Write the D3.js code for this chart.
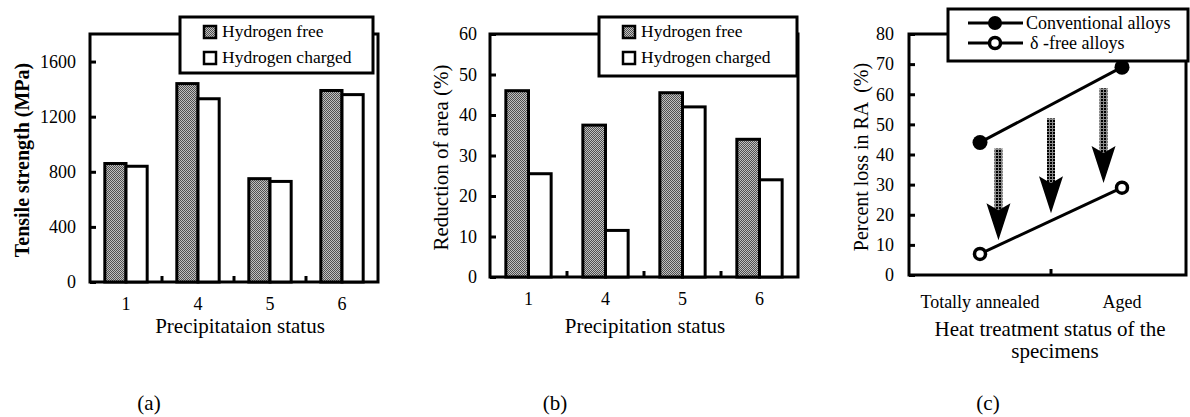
<!DOCTYPE html>
<html>
<head>
<meta charset="utf-8">
<script src="https://cdn.jsdelivr.net/npm/d3@7"></script>
<style>
  body { margin: 0; background: #fff; }
</style>
</head>
<body>
<div id="chart"></div>
<script>
// values
const statusA = ["1", "4", "5", "6"];
const tensileFree = [860, 1440, 750, 1390];
const tensileCharged = [840, 1330, 730, 1360];
const tensileTicks = [0, 400, 800, 1200, 1600];

const statusB = ["1", "4", "5", "6"];
const raFree = [46, 37.5, 45.5, 34];
const raCharged = [25.5, 11.5, 42, 24];
const raTicks = [0, 10, 20, 30, 40, 50, 60];

const heatStatus = ["Totally annealed", "Aged"];
const lossConventional = [44, 69];
const lossDeltaFree = [7, 29];
const lossTicks = [0, 10, 20, 30, 40, 50, 60, 70, 80];
// arrows: position between the two categories (0..1), start and end value
const arrowPos = [0.13, 0.5, 0.87];
const arrowFrom = [42, 52, 62];
const arrowTo = [11.5, 20.5, 30.5];

const barSeries = ["Hydrogen free", "Hydrogen charged"];
const lineSeries = ["Conventional alloys", "δ -free alloys"];
const panelLabels = ["(a)", "(b)", "(c)"];

const W = 1190, H = 417;
const FONT = "'Liberation Serif', 'Times New Roman', serif";
const svg = d3.select("#chart").append("svg")
  .attr("width", W).attr("height", H);

const defs = svg.append("defs");
const hatch = defs.append("pattern")
  .attr("id", "grayfill").attr("patternUnits", "userSpaceOnUse")
  .attr("width", 2).attr("height", 2);
hatch.append("rect").attr("width", 2).attr("height", 2).attr("fill", "#c0c0c0");
hatch.append("rect").attr("width", 1).attr("height", 1).attr("fill", "#505050");
hatch.append("rect").attr("x", 1).attr("y", 1).attr("width", 1).attr("height", 1).attr("fill", "#505050");

const dots = defs.append("pattern")
  .attr("id", "dotted").attr("patternUnits", "userSpaceOnUse")
  .attr("width", 3).attr("height", 3);
dots.append("rect").attr("width", 3).attr("height", 3).attr("fill", "#8a8a8a");
dots.append("rect").attr("width", 2).attr("height", 2).attr("fill", "#000");

function txt(sel) {
  return sel.append("text").style("font-family", FONT);
}

function barPanel(cfg) {
  const g = svg.append("g");
  const data = cfg.categories.map((c, i) => ({cat: c, vals: [cfg.free[i], cfg.charged[i]]}));

  const x = d3.scaleBand().domain(cfg.categories).range([cfg.left, cfg.right]);
  const xs = d3.scaleBand().domain([0, 1]).range([0, x.bandwidth()]).paddingOuter(0.7);
  const y = d3.scaleLinear().domain([0, cfg.yMax]).range([cfg.bottom, cfg.top]);

  // frame
  g.append("rect")
    .attr("x", cfg.left).attr("y", cfg.top)
    .attr("width", cfg.right - cfg.left).attr("height", cfg.bottom - cfg.top)
    .attr("fill", "none").attr("stroke", "#000").attr("stroke-width", 3);

  // y ticks, pointing inside
  const yAxis = d3.axisRight(y).tickValues(cfg.ticks).tickSize(6).tickFormat("");
  g.append("g").attr("transform", `translate(${cfg.left},0)`).call(yAxis)
    .call(a => a.select(".domain").remove())
    .call(a => a.selectAll("line").attr("stroke", "#000").attr("stroke-width", 3));
  g.selectAll(".ylab").data(cfg.ticks).enter().append("text")
    .style("font-family", FONT)
    .attr("x", cfg.labelEnd).attr("y", d => y(d)).attr("dy", "0.35em")
    .attr("text-anchor", "end").attr("font-size", 18).text(d => d);

  // category separators
  g.selectAll(".sep").data(cfg.categories.slice(1)).enter().append("line")
    .attr("x1", d => x(d)).attr("x2", d => x(d))
    .attr("y1", cfg.bottom).attr("y2", cfg.bottom - 6)
    .attr("stroke", "#000").attr("stroke-width", 3);

  // bars
  const grp = g.selectAll(".grp").data(data).enter().append("g")
    .attr("transform", d => `translate(${x(d.cat)},0)`);
  grp.selectAll("rect").data(d => d.vals).enter().append("rect")
    .attr("x", (d, i) => xs(i)).attr("width", xs.bandwidth())
    .attr("y", d => y(d)).attr("height", d => cfg.bottom - y(d))
    .attr("fill", (d, i) => i === 0 ? "url(#grayfill)" : "#fff")
    .attr("stroke", "#000").attr("stroke-width", 3);

  // x labels
  g.selectAll(".xlab").data(cfg.categories).enter().append("text")
    .style("font-family", FONT)
    .attr("x", d => x(d) + x.bandwidth() / 2).attr("y", cfg.bottom + 28)
    .attr("text-anchor", "middle").attr("font-size", 18).text(d => d);
  txt(g).attr("x", cfg.xTitleX).attr("y", 333)
    .attr("text-anchor", "middle").attr("font-size", 21).text(cfg.xTitle);

  txt(g)
    .attr("transform", `translate(${cfg.titleX},${(cfg.top + cfg.bottom) / 2 + 2}) rotate(-90)`)
    .attr("text-anchor", "middle").attr("font-size", cfg.titleSize)
    .attr("font-weight", cfg.titleBold ? "bold" : "normal").text(cfg.title);

  // legend
  const lg = g.append("g");
  lg.append("rect").attr("x", cfg.leg[0]).attr("y", cfg.leg[1])
    .attr("width", cfg.leg[2]).attr("height", cfg.leg[3])
    .attr("fill", "#fff").attr("stroke", "#000").attr("stroke-width", 3);
  barSeries.forEach((s, i) => {
    const ly = cfg.leg[1] + 20 + i * 26;
    lg.append("rect").attr("x", cfg.leg[0] + 24).attr("y", ly - 11)
      .attr("width", 12).attr("height", 12)
      .attr("fill", i === 0 ? "url(#grayfill)" : "#fff")
      .attr("stroke", "#000").attr("stroke-width", 2.5);
    txt(lg).attr("x", cfg.leg[0] + 42).attr("y", ly)
      .attr("font-size", 17.5).text(s);
  });
}

barPanel({
  categories: statusA, free: tensileFree, charged: tensileCharged,
  left: 90, right: 378, top: 34, bottom: 282, yMax: 1800, ticks: tensileTicks,
  labelEnd: 76, title: "Tensile strength (MPa)", titleBold: true, titleSize: 20, titleX: 29,
  xTitle: "Precipitataion status", xTitleX: 240, leg: [180, 17, 193, 56]
});

barPanel({
  categories: statusB, free: raFree, charged: raCharged,
  left: 490, right: 798, top: 34, bottom: 277, yMax: 60, ticks: raTicks,
  labelEnd: 477, title: "Reduction of area (%)", titleBold: false, titleSize: 21, titleX: 448,
  xTitle: "Precipitation status", xTitleX: 645, leg: [599, 17, 198, 59]
});

// panel (c)
(function () {
  const g = svg.append("g");
  const left = 909, right = 1186, top = 34, bottom = 275;
  const x = d3.scaleBand().domain(heatStatus).range([left, left + 284]);
  const xPos = d3.scaleLinear().domain([0, 1])
    .range([x(heatStatus[0]) + x.bandwidth() / 2, x(heatStatus[1]) + x.bandwidth() / 2]);
  const y = d3.scaleLinear().domain([0, 80]).range([bottom, top]);

  g.append("rect").attr("x", left).attr("y", top)
    .attr("width", right - left).attr("height", bottom - top)
    .attr("fill", "none").attr("stroke", "#000").attr("stroke-width", 3);

  g.append("g").attr("transform", `translate(${left},0)`)
    .call(d3.axisRight(y).tickValues(lossTicks).tickSize(6).tickFormat(""))
    .call(a => a.select(".domain").remove())
    .call(a => a.selectAll("line").attr("stroke", "#000").attr("stroke-width", 3));
  g.selectAll(".ylab").data(lossTicks).enter().append("text")
    .style("font-family", FONT)
    .attr("x", 894).attr("y", d => y(d)).attr("dy", "0.35em")
    .attr("text-anchor", "end").attr("font-size", 18).text(d => d);

  g.append("line").attr("x1", x(heatStatus[1])).attr("x2", x(heatStatus[1]))
    .attr("y1", bottom).attr("y2", bottom - 6).attr("stroke", "#000").attr("stroke-width", 3);

  g.selectAll(".xlab").data(heatStatus).enter().append("text")
    .style("font-family", FONT)
    .attr("x", d => x(d) + x.bandwidth() / 2).attr("y", 308)
    .attr("text-anchor", "middle").attr("font-size", 18).text(d => d);
  txt(g).attr("x", 1050).attr("y", 336).attr("text-anchor", "middle")
    .attr("font-size", 21).text("Heat treatment status of the");
  txt(g).attr("x", 1055).attr("y", 358).attr("text-anchor", "middle")
    .attr("font-size", 21).text("specimens");

  txt(g)
    .attr("transform", `translate(868,157) rotate(-90)`)
    .attr("text-anchor", "middle").attr("font-size", 20)
    .style("white-space", "pre")
    .text("Percent loss in RA  (%)");

  // arrows
  arrowPos.forEach((p, i) => {
    const ax = xPos(p), tip = y(arrowTo[i]), headTop = tip - 37;
    g.append("rect").attr("x", ax - 4).attr("y", y(arrowFrom[i]))
      .attr("width", 8).attr("height", headTop + 8 - y(arrowFrom[i]))
      .attr("fill", "url(#dotted)");
    g.append("path")
      .attr("d", d3.line()([[ax - 12, headTop], [ax, headTop + 7], [ax + 12, headTop], [ax, tip]]) + "Z")
      .attr("fill", "#000");
  });

  const line = d3.line().x((d, i) => x(heatStatus[i]) + x.bandwidth() / 2).y(d => y(d));
  [lossConventional, lossDeltaFree].forEach((vals, k) => {
    g.append("path").attr("d", line(vals)).attr("fill", "none")
      .attr("stroke", "#000").attr("stroke-width", 3);
    g.selectAll(null).data(vals).enter().append("circle")
      .attr("cx", (d, i) => x(heatStatus[i]) + x.bandwidth() / 2).attr("cy", d => y(d))
      .attr("r", k === 0 ? 7.5 : 5.5)
      .attr("fill", k === 0 ? "#000" : "#fff")
      .attr("stroke", "#000").attr("stroke-width", k === 0 ? 0 : 3.5);
  });

  // legend
  g.append("rect").attr("x", 948).attr("y", 9).attr("width", 240).attr("height", 52)
    .attr("fill", "#fff").attr("stroke", "#000").attr("stroke-width", 3);
  lineSeries.forEach((s, k) => {
    const ly = 23 + k * 20;
    g.append("line").attr("x1", 968).attr("x2", 1023).attr("y1", ly).attr("y2", ly)
      .attr("stroke", "#000").attr("stroke-width", 3);
    g.append("circle").attr("cx", 995).attr("cy", ly).attr("r", k === 0 ? 7 : 5.5)
      .attr("fill", k === 0 ? "#000" : "#fff")
      .attr("stroke", "#000").attr("stroke-width", k === 0 ? 0 : 3.5);
    txt(g).attr("x", k === 0 ? 1026 : 1030).attr("y", ly + 6)
      .attr("font-size", 18).text(s);
  });
})();

svg.selectAll(".panel-label").data(panelLabels).enter().append("text")
  .style("font-family", FONT)
  .attr("x", (d, i) => [149, 555, 988][i]).attr("y", 410)
  .attr("text-anchor", "middle").attr("font-size", 21).text(d => d);
</script>
</body>
</html>
